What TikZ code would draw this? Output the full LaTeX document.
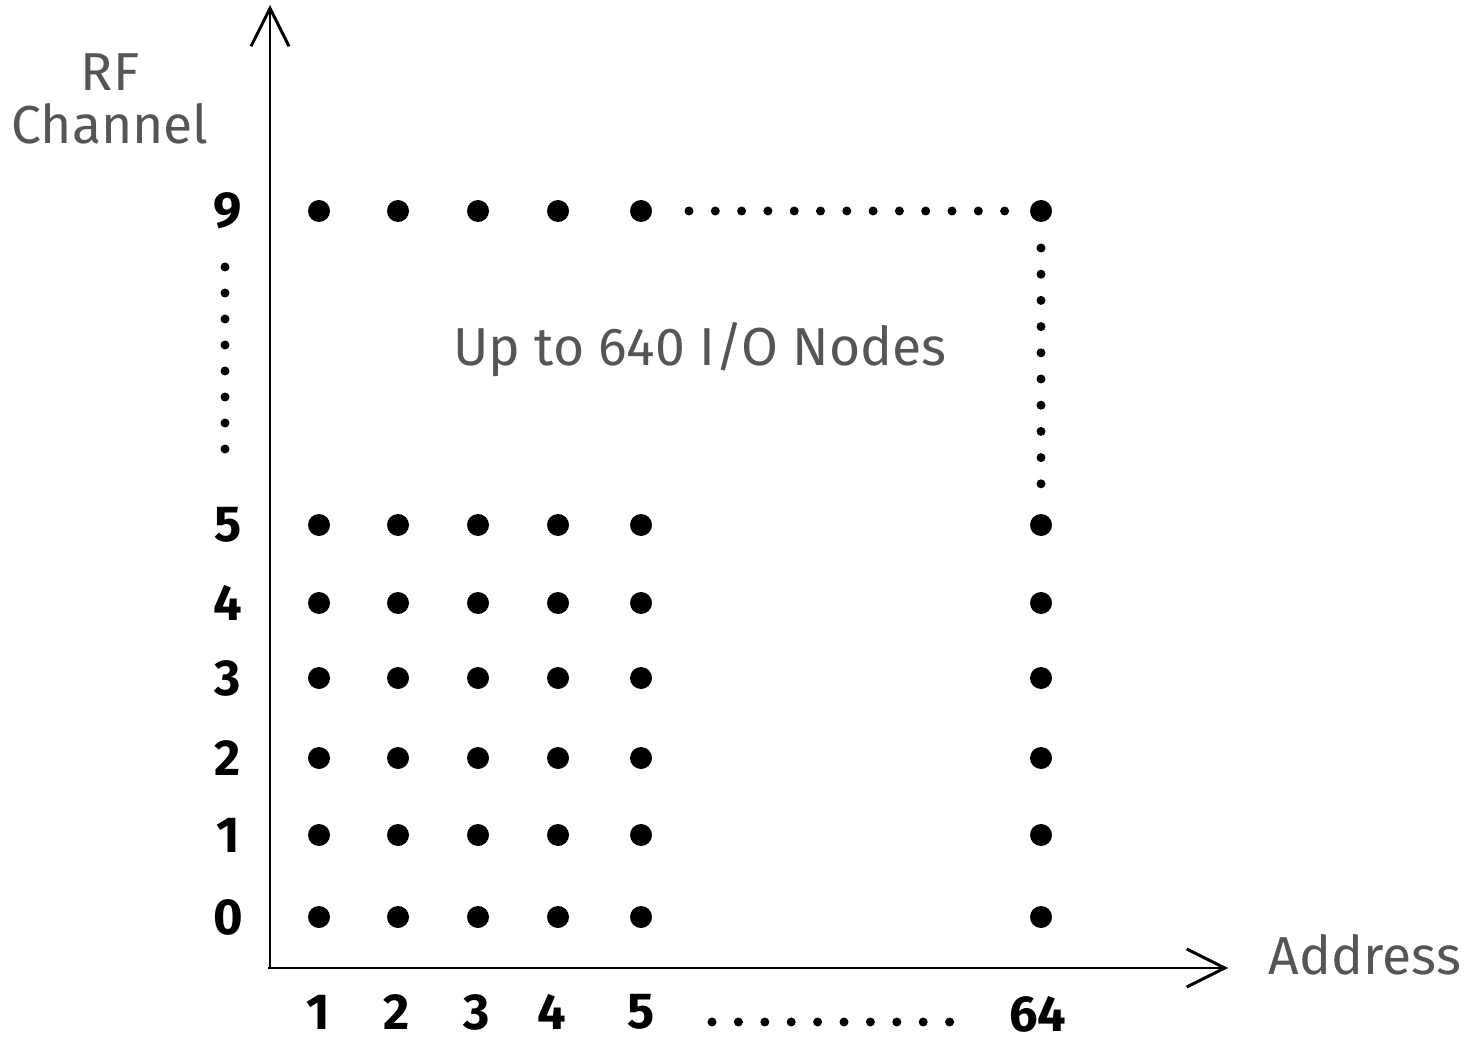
\documentclass[tikz,border=0pt]{standalone}
\usepackage{fontspec}
\setmainfont{Fira Sans}
\usetikzlibrary{arrows.meta}
\usetikzlibrary{positioning}
\definecolor{labelgrey}{HTML}{555555}
\tikzset{
  iodot/.style={circle, fill=black, inner sep=0pt, minimum size=22*0.025cm},
  gapdot/.style={circle, fill=black, inner sep=0pt, minimum size=9*0.025cm},
  axislabel/.style={text=labelgrey, font=\fontsize{38}{46}\selectfont, align=center},
  ticklabel/.style={font=\fontsize{36}{40}\selectfont\bfseries, inner sep=0pt},
  axisarrow/.style={line width=2.1pt, -{Straight Barb[length=0.95cm, width=0.95cm, line width=2.1pt]}}
}
\begin{document}
\begin{tikzpicture}[x=0.025cm, y=-0.025cm]
\useasboundingbox (0,0) rectangle (1472,1043);
% the axes
\coordinate (origin) at (270,968);
\coordinate (ytip) at (270,5);
\coordinate (xtip) at (1228,968);
\draw[axisarrow] (origin) -- (ytip);
\draw[axisarrow] ([xshift=-2*0.025cm]origin) -- (xtip);
\node[axislabel] (rf) at (110,99) {RF\\[-8pt]Channel};
\node[axislabel] (addr) at (1365,955) {Address};
\node[axislabel] (total) at (700,350) {Up to 640 I/O Nodes};
% the rows of nodes
%     channels 0 to 5, addresses 1 to 5 and 64
\foreach \y [count=\c from 0] in {917,835,758,678,603,525} {
  \node[ticklabel] (ch\c) at (228,\y) {\c};
  \foreach \x [count=\a] in {319,398,478,558,641}
    \node[iodot] (n\a-\c) at (\x,\y) {};
  \node[iodot] (n64-\c) at (1041,\y) {};
}
%     channel 9
\node[ticklabel] (ch9) at (228,211) {9};
\foreach \x [count=\a] in {319,398,478,558,641}
  \node[iodot] (n\a-9) at (\x,211) {};
\node[iodot] (n64-9) at (1041,211) {};
% the address labels
\foreach \x [count=\a] in {318,397,477,552,641}
  \node[ticklabel] (ad\a) at (\x,1012) {\a};
\node[ticklabel] (ad64) at (1038,1014) {64};
% the gaps
%     between channel 5 and 9
\foreach \i in {0,...,7}
  \node[gapdot] at (225,267+26*\i) {};
%     between address 5 and 64
\foreach \i in {0,...,12}
  \node[gapdot] at (689+26.3*\i,211) {};
\foreach \i in {0,...,9}
  \node[gapdot] at (712+26.4*\i,1022) {};
%     down the last column
\foreach \i in {0,...,9}
  \node[gapdot] at (1041,248+26.2*\i) {};
\end{tikzpicture}
\end{document}
